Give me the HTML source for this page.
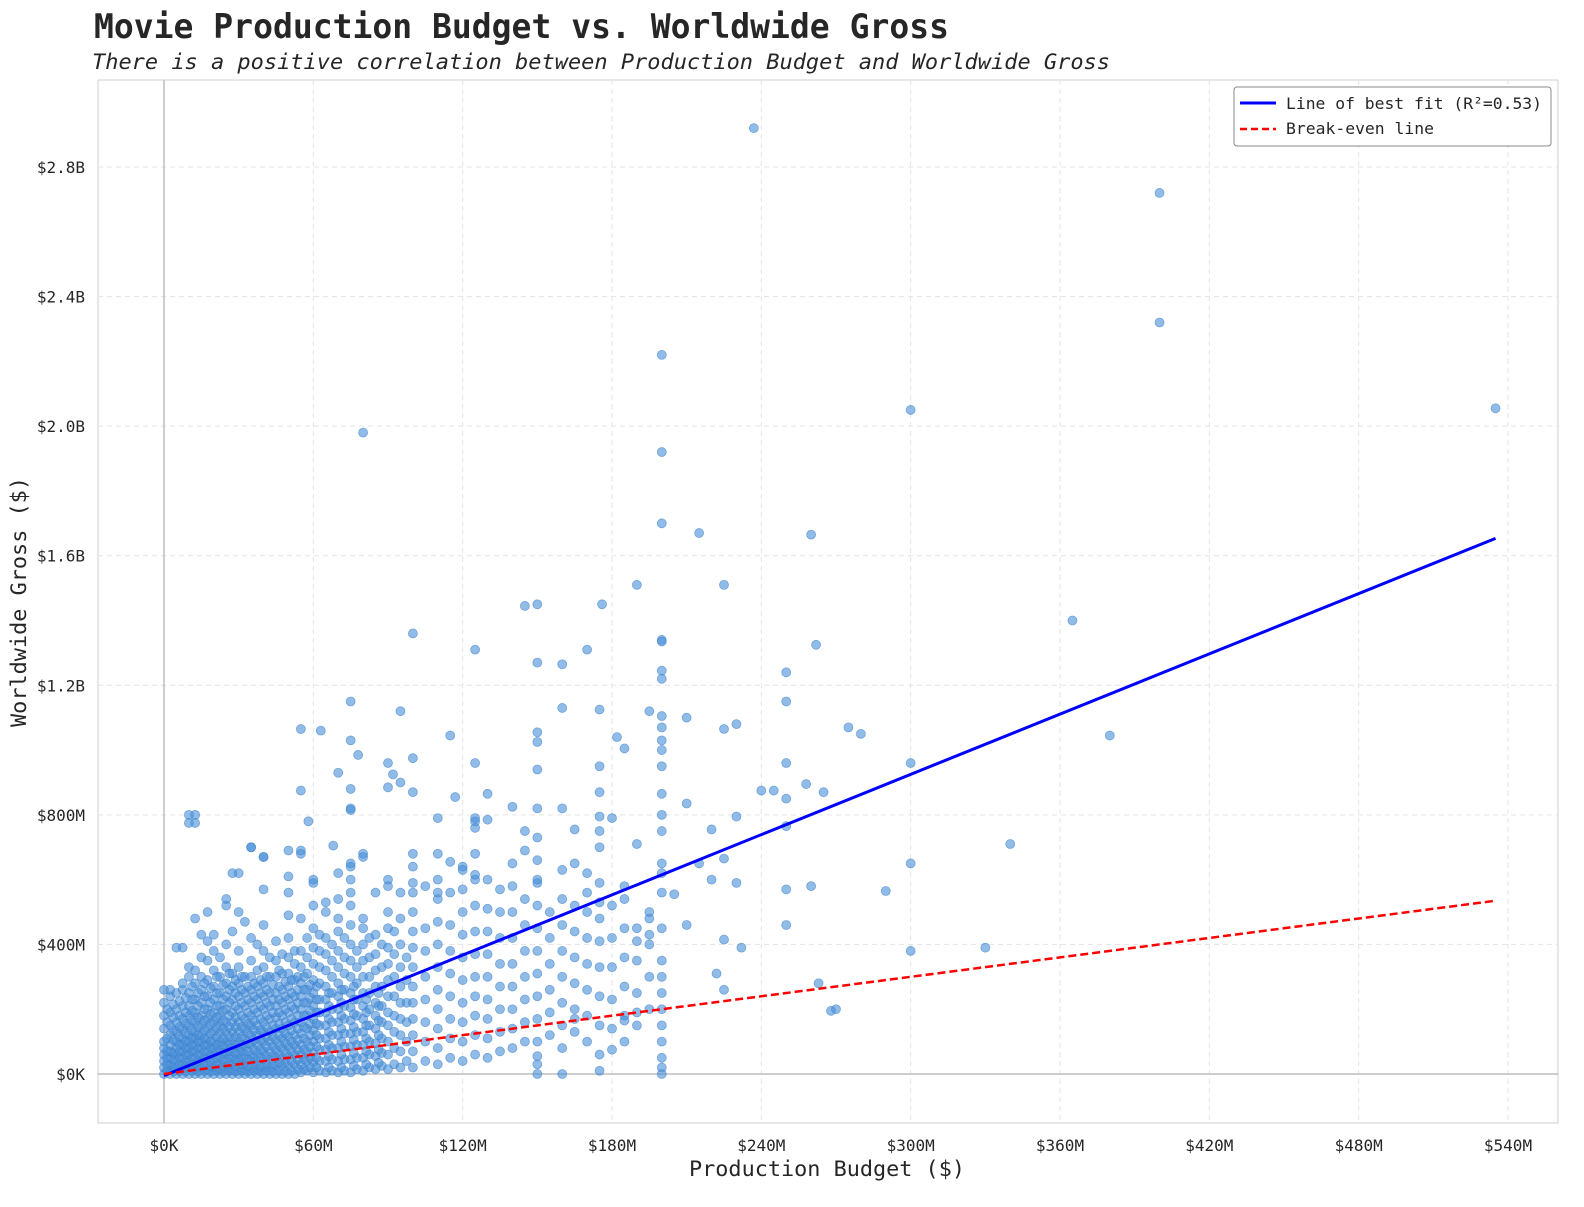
<!DOCTYPE html>
<html><head><meta charset="utf-8">
<style>
body{margin:0;background:#fff;width:1584px;height:1202px;overflow:hidden}
svg text{font-family:"DejaVu Sans Mono","Liberation Mono",monospace;fill:#262626}
</style></head>
<body>
<svg id="chart" width="1584" height="1202">
<text x="94" y="38" font-size="34" font-weight="bold" textLength="855" lengthAdjust="spacingAndGlyphs">Movie Production Budget vs. Worldwide Gross</text>
<text x="92" y="69" font-size="21" font-style="italic" textLength="1018" lengthAdjust="spacingAndGlyphs">There is a positive correlation between Production Budget and Worldwide Gross</text>
<rect x="98" y="80" width="1460" height="1043" fill="none" stroke="#cfcfcf"/>
<g id="grid"></g><g id="ticks"></g><g id="points"></g><g id="lines"></g>
<text x="827" y="1176" font-size="21" text-anchor="middle" textLength="276" lengthAdjust="spacingAndGlyphs">Production Budget ($)</text>
<text transform="translate(26,602) rotate(-90)" font-size="21" text-anchor="middle" textLength="250" lengthAdjust="spacingAndGlyphs">Worldwide Gross ($)</text>
<g>
<rect x="1234" y="87" width="317" height="59" rx="3" fill="#fff" stroke="#888"/>
<line x1="1240" y1="103" x2="1276" y2="103" stroke="#0000ff" stroke-width="3"/>
<text x="1286" y="109" font-size="16" textLength="256" lengthAdjust="spacingAndGlyphs">Line of best fit (R²=0.53)</text>
<line x1="1240" y1="129" x2="1276" y2="129" stroke="#ff0000" stroke-width="2.5" stroke-dasharray="7,4"/>
<text x="1286" y="134" font-size="16" textLength="148" lengthAdjust="spacingAndGlyphs">Break-even line</text>
</g>
</svg>
<script>
const xTicks=[0,60,120,180,240,300,360,420,480,540];
const xTickLabels=["$0K","$60M","$120M","$180M","$240M","$300M","$360M","$420M","$480M","$540M"];
const yTicks=[0,400,800,1200,1600,2000,2400,2800];
const yTickLabels=["$0K","$400M","$800M","$1.2B","$1.6B","$2.0B","$2.4B","$2.8B"];
const fitSlope=3.1, fitIntercept=-5, fitMaxBudget=535;
const columnBudgets=[0,2.5,5,7.5,10,12.5,15,17.5,20,22.5,25,27.5,30,32.5,35,37.5,40,42.5,45,47.5,50,52.5,55,57.5,60,62.5,65,67.5,70,72.5,75,77.5,80,82.5,85,87.5,90,92.5,95,97.5,100,105,110,115,120,125,130,135,140,145,150,155,160,165,170,175,180,185,190,195,200];
const columnGrosses=[
[0,20,40,60,80,100,140,180,220,260],
[0,15,30,50,70,90,120,150,190,240,260],
[0,20,40,60,80,100,130,160,200,250,390],
[0,15,30,50,70,90,110,140,170,210,260,280,390],
[0,20,40,60,80,100,120,150,180,210,250,300,330],
[0,15,30,50,70,90,110,130,160,190,230,280,320,480,800,775],
[0,20,40,60,80,100,120,150,180,220,260,300,360,430],
[0,15,30,50,70,90,110,140,170,200,240,290,350,410,500],
[0,20,40,60,80,100,130,160,190,230,270,320,380,430],
[0,15,35,55,75,100,125,150,180,210,250,300,360],
[0,20,40,60,80,100,130,160,200,240,280,330,400,520,540],
[0,15,35,55,80,105,130,160,190,230,270,310,440,620],
[0,20,40,60,80,100,130,160,200,240,280,330,380,500],
[0,15,35,60,85,110,140,170,210,250,300,470],
[0,20,40,60,90,120,150,180,220,260,300,350,420,700],
[0,15,40,65,90,120,150,190,230,270,320,400],
[0,20,45,70,100,130,160,200,240,280,330,380,460,570,670],
[0,20,45,70,100,130,170,210,250,300,360],
[0,25,50,75,105,140,175,210,250,300,350,410],
[0,25,50,80,110,140,180,220,260,310,370],
[0,25,55,85,115,150,190,230,270,310,360,420,490,560,610,690],
[0,30,60,90,120,160,200,240,290,340,380],
[5,30,60,90,125,160,200,240,280,330,380,480,680],
[10,40,70,100,140,180,220,260,310,360,420],
[5,35,65,100,135,170,210,250,290,340,390,450,520,590],
[10,40,75,110,150,190,230,280,330,380,430],
[5,40,75,110,150,190,230,270,320,370,420,500,530],
[10,45,80,120,160,200,250,300,350,400],
[5,40,80,120,160,200,240,280,330,380,440,480,540,620],
[10,45,85,125,170,210,260,310,360,420],
[5,45,85,125,165,205,250,300,350,400,460,520,560,600,640,820,880],
[15,50,90,130,180,230,280,330,380],
[10,50,90,130,170,210,250,300,350,400,450,480,680],
[20,60,100,150,200,250,300,360,420],
[15,55,95,140,180,220,270,320,370,430,560],
[25,65,110,160,210,270,330,400],
[15,60,100,150,190,240,290,340,390,450,500,600],
[30,80,130,180,240,300,370,440],
[20,70,120,170,220,270,330,400,480,560],
[40,100,160,220,290,360],
[20,70,120,170,220,270,330,390,440,500,560,640],
[40,100,160,230,300,380,450,580],
[30,80,140,200,260,330,400,470,540,600,680],
[50,110,170,240,310,380,460,560],
[40,100,160,220,290,360,430,500,570,640],
[60,120,180,240,300,370,440,520,600,680,760,780],
[50,110,170,230,300,370,440,510,600],
[70,130,200,270,340,420,500],
[80,140,200,270,340,420,500,580,650],
[100,160,230,300,380,460,540,690],
[30,100,170,240,310,380,450,520,590,660,730],
[120,190,260,340,420,500],
[80,150,220,300,380,460,540],
[130,200,280,360,440,520,650],
[100,180,260,340,420,500,560],
[60,150,240,330,410,480,590,700,750],
[140,230,330,420,520],
[100,180,270,360,450,540],
[150,250,350,450],
[200,300,400,480],
[250,350,450,560,650,750,800,1000]
];
const fillerBudgets=[1.25,3.75,6.25,8.75,11.25,13.75,16.25,18.75,21.25,23.75,26.25,28.75,31.25,33.75,36.25,38.75,41.25,43.75,46.25,48.75,51.25,53.75,56.25,58.75,61.25,66.25,71.25,76.25,81.25,86.25];
const fillerGrosses=[
[10,30,50,70,110,160,200],
[8,25,45,65,105,135,175,215],
[10,30,50,70,90,115,145,180,225],
[8,25,40,60,80,100,125,155,190,235],
[10,30,50,70,90,110,135,165,195,230,270],
[8,25,40,60,80,100,120,145,175,210,250],
[10,30,50,70,90,110,135,165,200,240,280],
[8,25,40,60,80,100,125,155,185,220,265],
[10,30,50,70,90,115,145,175,210,250,300],
[8,25,45,65,90,110,140,165,195,230,275],
[10,30,50,70,90,115,145,180,220,260,310],
[8,25,45,65,90,115,145,175,210,250,290],
[10,30,50,70,90,115,145,180,220,260,300],
[8,25,45,70,95,125,155,190,230,270],
[10,30,50,75,105,135,165,200,240,280],
[8,25,50,75,105,135,170,210,250,290],
[10,30,55,85,115,145,180,220,260,300],
[8,30,55,85,115,150,190,230,275],
[10,35,60,90,120,155,190,230,270,320],
[8,35,65,95,125,160,200,240,285],
[10,40,70,100,135,170,210,250,290],
[15,45,75,105,140,180,220,260,300],
[15,45,75,110,145,180,220,260,300],
[20,50,85,120,155,195,235,275],
[20,50,85,120,155,190,230,270],
[20,55,90,130,170,210,250],
[20,60,100,140,180,220,260],
[25,65,105,145,185,230,270],
[30,70,110,150,190,230],
[35,75,120,165,210,250]
];
const outlierBudgets=[237,400,400,200,300,535,80,200,200,215,260,190,225,145,150,176,365,100,200,200,125,262,170,150,160,200,250,200,160,175,75,95,195,200,210,250,182,115,150,150,200,225,230,275,280,380,55,63,75,185,200,78,90,100,125,150,175,200,250,300,70,92,95,90,245,265,258,250,55,100,117,130,140,150,160,175,200,210,10,10,58,75,110,125,130,145,165,175,180,190,220,230,250,340,35,68,100,55,40,75,100,115,120,125,150,160,170,185,200,220,225,215,230,240,250,260,290,300,30,60,80,90,110,135,175,195,205,210,225,232,250,300,330,263,268,270,222,225,200,200,200,200,200,200,200,150,160,175,180,150,165,190,185,195,190];
const outlierGrosses=[2920,2720,2320,2220,2050,2055,1980,1920,1700,1670,1665,1510,1510,1445,1450,1450,1400,1360,1340,1335,1310,1325,1310,1270,1265,1245,1240,1220,1130,1125,1150,1120,1120,1105,1100,1150,1040,1045,1025,1055,1070,1065,1080,1070,1050,1045,1065,1060,1030,1005,1030,985,960,975,960,940,950,950,960,960,930,925,900,885,875,870,895,850,875,870,855,865,825,820,820,870,865,835,800,775,780,815,790,790,785,750,755,795,790,710,755,795,765,710,700,705,680,690,670,650,590,655,630,615,600,630,620,580,620,600,665,650,590,875,570,580,565,650,620,600,670,580,560,570,530,500,555,460,415,390,460,380,390,280,195,200,310,260,300,200,150,100,50,20,0,0,0,10,75,55,170,190,165,430,410];

const NS='http://www.w3.org/2000/svg';
const X=v=>164+v*(1508-164)/540;
const Y=v=>1074-v*(1074-167)/2800;
function mk(tag,attrs,parent){const e=document.createElementNS(NS,tag);for(const k in attrs)e.setAttribute(k,attrs[k]);document.getElementById(parent).appendChild(e);return e;}
xTicks.forEach((t,i)=>{
  const g=mk('line',{x1:X(t),x2:X(t),y1:80,y2:1123,stroke:'#e3e3e3','stroke-dasharray':'5,4'},'grid');
  
  
  const l=mk('text',{x:X(t),y:1151,'font-size':16,'text-anchor':'middle'},'ticks');l.textContent=xTickLabels[i];
  
  
});
yTicks.forEach((t,i)=>{
  const g=mk('line',{x1:98,x2:1558,y1:Y(t),y2:Y(t),stroke:'#e3e3e3','stroke-dasharray':'5,4'},'grid');
  
  
  const l=mk('text',{x:85,y:Y(t)+6,'font-size':16,'text-anchor':'end'},'ticks');l.textContent=yTickLabels[i];
  
  
});
const ax=mk('line',{x1:X(0),x2:X(0),y1:80,y2:1123,stroke:'#bdbdbd','stroke-width':1.5},'grid');


const ay=mk('line',{x1:98,x2:1558,y1:Y(0),y2:Y(0),stroke:'#bdbdbd','stroke-width':1.5},'grid');


function pt(b,g){
  const c=mk('circle',{cx:X(b),cy:Y(g),r:4.5,fill:'#4a90d9','fill-opacity':0.6,stroke:'#3b80cc','stroke-opacity':0.6,'stroke-width':0.8},'points');
  
  
}
columnBudgets.forEach((b,i)=>columnGrosses[i].forEach(g=>pt(b,g)));
fillerBudgets.forEach((b,i)=>fillerGrosses[i].forEach(g=>pt(b,g)));
outlierBudgets.forEach((b,i)=>pt(b,outlierGrosses[i]));
const fit=mk('line',{x1:X(0),y1:Y(fitIntercept),x2:X(fitMaxBudget),y2:Y(fitSlope*fitMaxBudget+fitIntercept),stroke:'#0000ff','stroke-width':3},'lines');


const be=mk('line',{x1:X(0),y1:Y(0),x2:X(fitMaxBudget),y2:Y(fitMaxBudget),stroke:'#ff0000','stroke-width':2.5,'stroke-dasharray':'8,4'},'lines');


</script>
</body></html>
